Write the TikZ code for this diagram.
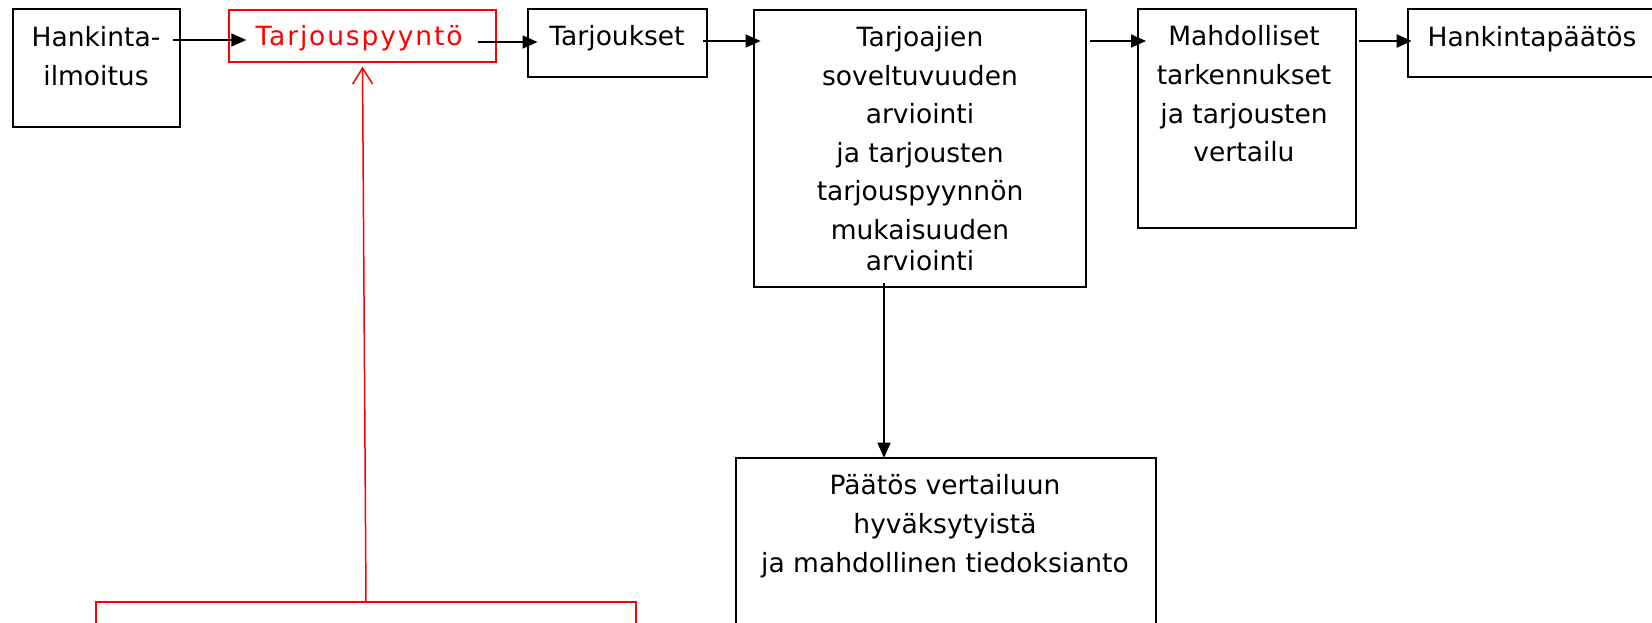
\documentclass[tikz,border=0pt]{standalone}
\usepackage{fontspec}
\setmainfont{DejaVu Sans}
\newfontfamily\redfont[LetterSpace=7]{DejaVu Sans}
\usetikzlibrary{arrows.meta,calc}
\tikzset{
  box/.style={draw=black, line width=2pt, inner sep=0pt, outer sep=0pt},
  redbox/.style={draw=red, line width=2pt, inner sep=0pt, outer sep=0pt},
  txt/.style={inner sep=0pt, outer sep=0pt, align=center, anchor=base, font=\fontsize{26.5}{38.6}\selectfont},
  arr/.style={line width=1.6pt, -{Triangle[length=15pt,width=13pt]}},
  redarr/.style={draw=red, line width=1.5pt, -{Straight Barb[length=16pt,width=20pt,line width=1.5pt]}}
}
\begin{document}
\begin{tikzpicture}[x=1pt,y=-1pt]
\clip (0,0) rectangle (1652,622);
\fill[white] (0,0) rectangle (1652,622);
% boxes
\node[box, minimum width=167pt, minimum height=117.4pt] (b1) at (96,68) {};
\node[redbox, minimum width=266.4pt, minimum height=51.7pt] (b2) at (362.5,35.9) {};
\node[box, minimum width=178.8pt, minimum height=67.4pt] (b3) at (617.4,43) {};
\node[box, minimum width=332.8pt, minimum height=277pt] (b4) at (920,148.5) {};
\node[box, minimum width=218.3pt, minimum height=218.4pt] (b5) at (1246.9,118.5) {};
\node[box, minimum width=292pt, minimum height=67.4pt] (b6) at (1554,43) {};
\node[box, minimum width=420pt, minimum height=242.3pt] (b7) at (946,578.85) {};
\node[redbox, minimum width=540pt, minimum height=98.3pt] (rb) at (366,650.85) {};
% texts (anchor = baseline of the last line)
\node[txt] (t1) at (96,85) {Hankinta-\\ilmoitus};
\node[txt, text=red] (t2) at (359,45.7) {\redfont Tarjouspyyntö};
\node[txt] (t3) at (617,45.5) {Tarjoukset};
\node[txt] (t4) at (920,270) {Tarjoajien\\soveltuvuuden\\arviointi\\ja tarjousten\\tarjouspyynnön\\mukaisuuden\\[-8pt]arviointi};
\node[txt] (t5) at (1244,161.7) {Mahdolliset\\tarkennukset\\ja tarjousten\\vertailu};
\node[txt] (t6) at (1532,46.7) {Hankintapäätös};
\node[txt] (t7) at (945,572) {Päätös vertailuun\\hyväksytyistä\\ja mahdollinen tiedoksianto};
% connectors
\draw[arr] ($(b1.east)+(-7,-28)$) -- ($(b2.west)+(17,4.1)$);
\draw[arr] ($(b2.east)+(-17.7,6.1)$) -- ($(b3.west)+(9.5,-1)$);
\draw[arr] ($(b3.east)+(-4.3,-2)$) -- ($(b4.west)+(7,-107.5)$);
\draw[arr] ($(b4.east)+(3.6,-107.5)$) -- ($(b5.west)+(8.3,-77.5)$);
\draw[arr, line width=2.2pt] ($(b5.east)+(3,-77.5)$) -- ($(b6.west)+(3.6,-2)$);
\draw[arr] ($(b4.south)+(-36,-4)$) -- ($(b7.north)+(-62,0)$);
\draw[redarr] (rb.north) -- ($(b2.south)+(0,4.9)$);
\end{tikzpicture}
\end{document}
